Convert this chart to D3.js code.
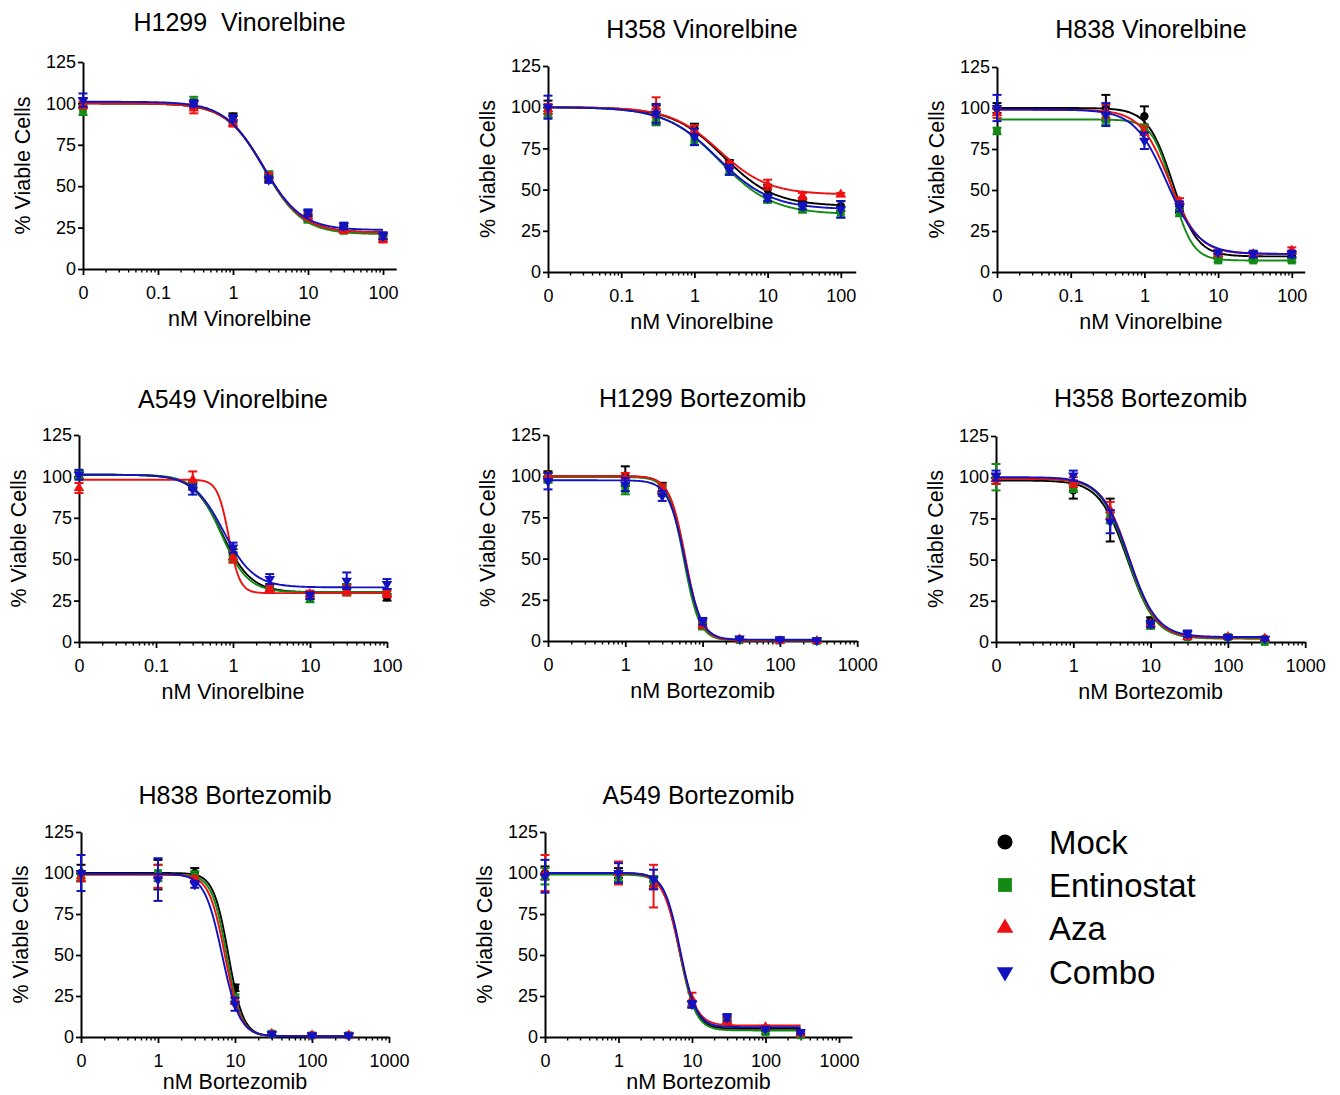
<!DOCTYPE html>
<html lang="en">
<head>
<meta charset="utf-8">
<title>Dose response panels</title>
<script src="https://d3js.org/d3.v7.min.js"></script>
<style>
  body { margin: 0; background: #fff; }
  svg { font-family: Arial, "Liberation Sans", sans-serif; }
</style>
</head>
<body>
<script>
// ---- data ----
var seriesNames = ["Mock", "Entinostat", "Aza", "Combo"];
var vinDoses = [0, 0.3, 1, 3, 10, 30, 100];
var bortDoses = [0, 1, 3, 10, 30, 100, 300];
var vinTicks = [0.01, 0.1, 1, 10, 100];
var vinTickLabels = ["0", "0.1", "1", "10", "100"];
var bortTicks = [0.1, 1, 10, 100, 1000];
var bortTickLabels = ["0", "1", "10", "100", "1000"];
var yTicks = [0, 25, 50, 75, 100, 125];
var panelTitles = ["H1299  Vinorelbine", "H358 Vinorelbine", "H838 Vinorelbine", "A549 Vinorelbine",
                   "H1299 Bortezomib", "H358 Bortezomib", "H838 Bortezomib", "A549 Bortezomib"];

// mean % viable, one row per series (Mock, Entinostat, Aza, Combo)
var h1299VinMean = [[100, 99, 92, 55, 31, 24, 20], [96, 101, 90, 57, 30, 23, 20], [99, 97, 88, 56, 32, 23, 18], [102, 100, 91, 54, 34, 26, 20]];
var h1299VinSd   = [[3, 2, 2, 2, 2, 2, 2], [3, 3, 2, 2, 2, 1, 1], [2, 3, 2, 2, 2, 1, 2], [4, 2, 2, 2, 2, 2, 2]];
var h358VinMean  = [[100, 96, 87, 66, 50, 43, 40], [97, 93, 80, 61, 44, 38, 36], [99, 100, 86, 65, 53, 46, 47], [100, 96, 82, 62, 45, 40, 38]];
var h358VinSd    = [[4, 5, 3, 2, 3, 2, 3], [3, 4, 3, 2, 2, 2, 3], [3, 6, 3, 2, 3, 2, 1], [7, 6, 5, 3, 2, 2, 5]];
var h838VinMean  = [[100, 100, 95, 38, 10, 9, 10], [86, 93, 88, 36, 7, 7, 7], [97, 98, 85, 43, 11, 11, 13], [100, 96, 80, 40, 12, 11, 11]];
var h838VinSd    = [[3, 8, 6, 2, 1, 1, 1], [2, 3, 2, 2, 1, 1, 1], [3, 4, 4, 2, 1, 1, 2], [8, 7, 5, 3, 1, 2, 2]];
var a549VinMean  = [[101, 94, 53, 33, 28, 32, 27], [101, 95, 50, 33, 26, 32, 30], [93, 98, 51, 32, 29, 31, 29], [101, 92, 57, 38, 28, 37, 35]];
var a549VinSd    = [[2, 2, 3, 2, 2, 3, 2], [2, 2, 2, 2, 2, 3, 2], [3, 5, 3, 2, 2, 3, 2], [3, 3, 3, 3, 2, 5, 3]];
var h1299BortMean = [[100, 100, 93, 10, 1, 0.5, 0], [99, 92, 91, 9, 0.5, 0.5, 0], [100, 99, 92, 10, 1, 0, 0], [97, 95, 88, 12, 1.5, 1, 0.5]];
var h1299BortSd   = [[3, 6, 3, 2, 1, 1, 1], [3, 3, 3, 2, 1, 1, 1], [2, 3, 3, 2, 1, 1, 1], [5, 4, 3, 2, 1, 1, 1]];
var h358BortMean  = [[99, 92, 74, 13, 3, 3, 2], [100, 94, 76, 10, 3, 3, 0], [99, 97, 80, 11, 3, 3, 2], [101, 101, 73, 11, 5, 3, 2]];
var h358BortSd    = [[3, 5, 13, 2, 1, 1, 1], [8, 3, 4, 2, 1, 1, 1], [3, 3, 5, 2, 1, 1, 1], [3, 3, 7, 2, 2, 1, 1]];
var h838BortMean  = [[100, 99, 100, 30, 2, 1, 1], [98, 100, 98, 24, 2, 1, 1], [98, 98, 96, 22, 2, 1, 1], [100, 96, 93, 20, 2, 1, 1]];
var h838BortSd    = [[5, 9, 3, 2, 1, 1, 1], [3, 5, 3, 2, 1, 1, 1], [3, 7, 2, 2, 1, 1, 1], [11, 13, 2, 4, 1, 1, 1]];
var a549BortMean  = [[100, 100, 95, 20, 10, 5, 2], [98, 98, 95, 20, 10, 3, 1], [100, 100, 92, 23, 10, 6, 2], [98, 100, 96, 20, 12, 5, 3]];
var a549BortSd    = [[4, 3, 3, 2, 2, 1, 1], [5, 3, 3, 2, 1, 1, 1], [11, 7, 13, 4, 2, 1, 1], [10, 6, 6, 2, 2, 1, 1]];

// fitted curve parameters: [top, bottom, EC50 (nM), hill]
var h1299VinFit  = [[100, 22, 2.6, 1.7], [100, 21, 2.6, 1.7], [100, 22, 2.6, 1.7], [101, 23.5, 2.5, 1.7]];
var h358VinFit   = [[100, 40, 2.5, 1.25], [100, 35, 2.2, 1.2], [100, 47, 2.2, 1.3], [100, 38, 2.1, 1.2]];
var h838VinFit   = [[100, 9.5, 2.4, 2.6], [93, 7, 2.4, 3.2], [99, 11, 2.2, 2.2], [99, 11, 2.0, 2.0]];
var a549VinFit   = [[101, 30, 0.72, 2.3], [101, 30, 0.7, 2.5], [98, 29.5, 0.88, 6], [101, 33, 0.75, 2.2]];
var h1299BortFit = [[100, 0.5, 5.9, 4.2], [99.5, 0.3, 5.7, 4.3], [100, 0.4, 6.0, 4.2], [97.5, 0.8, 5.9, 4.0]];
var h358BortFit  = [[98, 2.5, 5.0, 2.4], [99, 2, 5.1, 2.5], [99, 2.5, 5.3, 2.5], [100, 3, 5.2, 2.4]];
var h838BortFit  = [[100, 0.5, 8.2, 4.5], [99, 0.5, 7.8, 4.5], [99, 0.5, 7.4, 4.2], [99.5, 0.5, 6.8, 3.8]];
var a549BortFit  = [[100, 5, 6.8, 4], [99, 4, 6.8, 4], [100, 7, 6.7, 3.8], [100, 6, 6.9, 4]];

// ---- layout ----
var colors = ["#000000", "#138a13", "#ee1111", "#1212c0"];
var font = 'Arial, "Liberation Sans", sans-serif';

var panels = [
  {mean: h1299VinMean, sd: h1299VinSd, fit: h1299VinFit, doses: vinDoses, ticks: vinTicks, labels: vinTickLabels, xTitle: "nM Vinorelbine"},
  {mean: h358VinMean, sd: h358VinSd, fit: h358VinFit, doses: vinDoses, ticks: vinTicks, labels: vinTickLabels, xTitle: "nM Vinorelbine"},
  {mean: h838VinMean, sd: h838VinSd, fit: h838VinFit, doses: vinDoses, ticks: vinTicks, labels: vinTickLabels, xTitle: "nM Vinorelbine"},
  {mean: a549VinMean, sd: a549VinSd, fit: a549VinFit, doses: vinDoses, ticks: vinTicks, labels: vinTickLabels, xTitle: "nM Vinorelbine"},
  {mean: h1299BortMean, sd: h1299BortSd, fit: h1299BortFit, doses: bortDoses, ticks: bortTicks, labels: bortTickLabels, xTitle: "nM Bortezomib"},
  {mean: h358BortMean, sd: h358BortSd, fit: h358BortFit, doses: bortDoses, ticks: bortTicks, labels: bortTickLabels, xTitle: "nM Bortezomib"},
  {mean: h838BortMean, sd: h838BortSd, fit: h838BortFit, doses: bortDoses, ticks: bortTicks, labels: bortTickLabels, xTitle: "nM Bortezomib"},
  {mean: a549BortMean, sd: a549BortSd, fit: a549BortFit, doses: bortDoses, ticks: bortTicks, labels: bortTickLabels, xTitle: "nM Bortezomib"}
];

// x0 = pixel of the "0" position, dec = pixels per decade, end = axis end value
var layout = [
  {x0: 83, dec: 75, end: 150, top: 62, bot: 269, ty: 31, xt: 57},
  {x0: 548, dec: 73.2, end: 160, top: 66, bot: 272, ty: 38, xt: 57},
  {x0: 997, dec: 73.7, end: 150, top: 67, bot: 272, ty: 38, xt: 57},
  {x0: 79, dec: 77, end: 100, top: 435, bot: 642, ty: 408, xt: 57},
  {x0: 548, dec: 77.3, end: 1000, top: 435, bot: 641, ty: 407, xt: 57},
  {x0: 996, dec: 77.3, end: 1000, top: 436, bot: 642, ty: 407, xt: 57},
  {x0: 81, dec: 77, end: 1000, top: 832, bot: 1037, ty: 804, xt: 52},
  {x0: 545, dec: 73.5, end: 1500, top: 832, bot: 1037, ty: 804, xt: 52}
];

var symbols = [d3.symbolCircle, d3.symbolSquare, d3.symbolTriangle, d3.symbolTriangle];
var symSize = [55, 60, 48, 48];

var svg = d3.select("body").append("svg")
    .attr("width", 1340)
    .attr("height", 1095);

function fourPL(f, x) {
  return f[1] + (f[0] - f[1]) / (1 + Math.pow(x / f[2], f[3]));
}

panels.forEach(function(p, i) {
  var L = layout[i];
  var xmin = p.ticks[0];
  var x = d3.scaleLog()
      .domain([xmin, L.end])
      .range([L.x0, L.x0 + L.dec * Math.log10(L.end / xmin)]);
  var y = d3.scaleLinear().domain([0, 125]).range([L.bot, L.top]);
  var xPos = function(d) { return x(d === 0 ? xmin : d); };
  var cx = (x.range()[0] + x.range()[1]) / 2;

  var g = svg.append("g");

  // minor ticks
  var minor = [];
  var e0 = Math.round(Math.log10(xmin));
  for (var e = e0; Math.pow(10, e) < L.end; e++) {
    for (var k = 2; k < 10; k++) {
      var v = k * Math.pow(10, e);
      if (v <= L.end * 1.0001) minor.push(v);
    }
  }
  g.append("g")
      .attr("transform", "translate(0," + L.bot + ")")
      .call(d3.axisBottom(x).tickValues(minor).tickSize(3.5).tickFormat(""))
      .call(function(a) { a.select(".domain").remove(); a.selectAll("line").attr("stroke-width", 1.4); });

  var major = p.ticks.filter(function(t) { return t <= L.end * 1.0001; });
  var xAxis = g.append("g")
      .attr("transform", "translate(0," + L.bot + ")")
      .call(d3.axisBottom(x).tickValues(major).tickSize(6).tickSizeOuter(0).tickPadding(11)
        .tickFormat(function(d) { return p.labels[p.ticks.indexOf(d)]; }));
  xAxis.attr("font-size", 18).attr("font-family", font);
  xAxis.select(".domain").attr("stroke-width", 2);
  xAxis.selectAll("line").attr("stroke-width", 1.8);

  var yAxis = g.append("g")
      .attr("transform", "translate(" + L.x0 + ",0)")
      .call(d3.axisLeft(y).tickValues(yTicks).tickSize(5).tickSizeOuter(0).tickPadding(2));
  yAxis.attr("font-size", 18).attr("font-family", font);
  yAxis.select(".domain").attr("stroke-width", 2);
  yAxis.selectAll("line").attr("stroke-width", 1.8);

  // titles
  g.append("text")
      .attr("x", cx).attr("y", L.ty)
      .attr("text-anchor", "middle")
      .attr("font-size", 25)
      .style("white-space", "pre")
      .text(panelTitles[i]);
  g.append("text")
      .attr("x", cx).attr("y", L.bot + L.xt)
      .attr("text-anchor", "middle")
      .attr("font-size", 21.5)
      .text(p.xTitle);
  g.append("text")
      .attr("transform", "translate(" + (L.x0 - 53) + "," + ((L.top + L.bot) / 2) + ") rotate(-90)")
      .attr("text-anchor", "middle")
      .attr("font-size", 21.5)
      .text("% Viable Cells");

  p.mean.forEach(function(vals, s) {
    var col = colors[s];
    var pts = vals.map(function(v, j) { return {dose: p.doses[j], v: v, sd: p.sd[s][j]}; });
    var sg = g.append("g");

    // fitted curve
    var lo = Math.log10(xmin), hi = Math.log10(p.doses[p.doses.length - 1]);
    var xs = d3.range(0, 201).map(function(t) { return Math.pow(10, lo + (hi - lo) * t / 200); });
    sg.append("path")
        .datum(xs)
        .attr("fill", "none")
        .attr("stroke", col)
        .attr("stroke-width", 1.9)
        .attr("d", d3.line()
          .x(function(d) { return x(d); })
          .y(function(d) { return y(fourPL(p.fit[s], d)); }));

    // error bars
    var eb = sg.selectAll(".eb").data(pts).enter().append("g")
        .attr("stroke", col).attr("stroke-width", 2);
    eb.append("line")
        .attr("x1", function(d) { return xPos(d.dose); })
        .attr("x2", function(d) { return xPos(d.dose); })
        .attr("y1", function(d) { return y(d.v + d.sd); })
        .attr("y2", function(d) { return y(Math.max(0, d.v - d.sd)); });
    eb.append("line")
        .attr("x1", function(d) { return xPos(d.dose) - 4.5; })
        .attr("x2", function(d) { return xPos(d.dose) + 4.5; })
        .attr("y1", function(d) { return y(d.v + d.sd); })
        .attr("y2", function(d) { return y(d.v + d.sd); });
    eb.append("line")
        .attr("x1", function(d) { return xPos(d.dose) - 4.5; })
        .attr("x2", function(d) { return xPos(d.dose) + 4.5; })
        .attr("y1", function(d) { return y(Math.max(0, d.v - d.sd)); })
        .attr("y2", function(d) { return y(Math.max(0, d.v - d.sd)); });

    // markers
    sg.selectAll(".pt").data(pts).enter().append("path")
        .attr("fill", col)
        .attr("d", d3.symbol().type(symbols[s]).size(symSize[s]))
        .attr("transform", function(d) {
          return "translate(" + xPos(d.dose) + "," + y(d.v) + ")" + (s === 3 ? " rotate(180)" : "");
        });
  });
});

// legend
var legendY = [842, 885, 928, 972];
var legend = svg.append("g").selectAll("g")
    .data(seriesNames)
    .enter().append("g")
    .attr("transform", function(d, i) { return "translate(1005," + legendY[i] + ")"; });
legend.append("path")
    .attr("fill", function(d, i) { return colors[i]; })
    .attr("d", function(d, i) { return d3.symbol().type(symbols[i]).size([180, 190, 120, 120][i])(); })
    .attr("transform", function(d, i) { return i === 3 ? "rotate(180)" : null; });
legend.append("text")
    .attr("x", 44)
    .attr("dy", "0.36em")
    .attr("font-size", 33)
    .text(function(d) { return d; });
</script>
</body>
</html>
